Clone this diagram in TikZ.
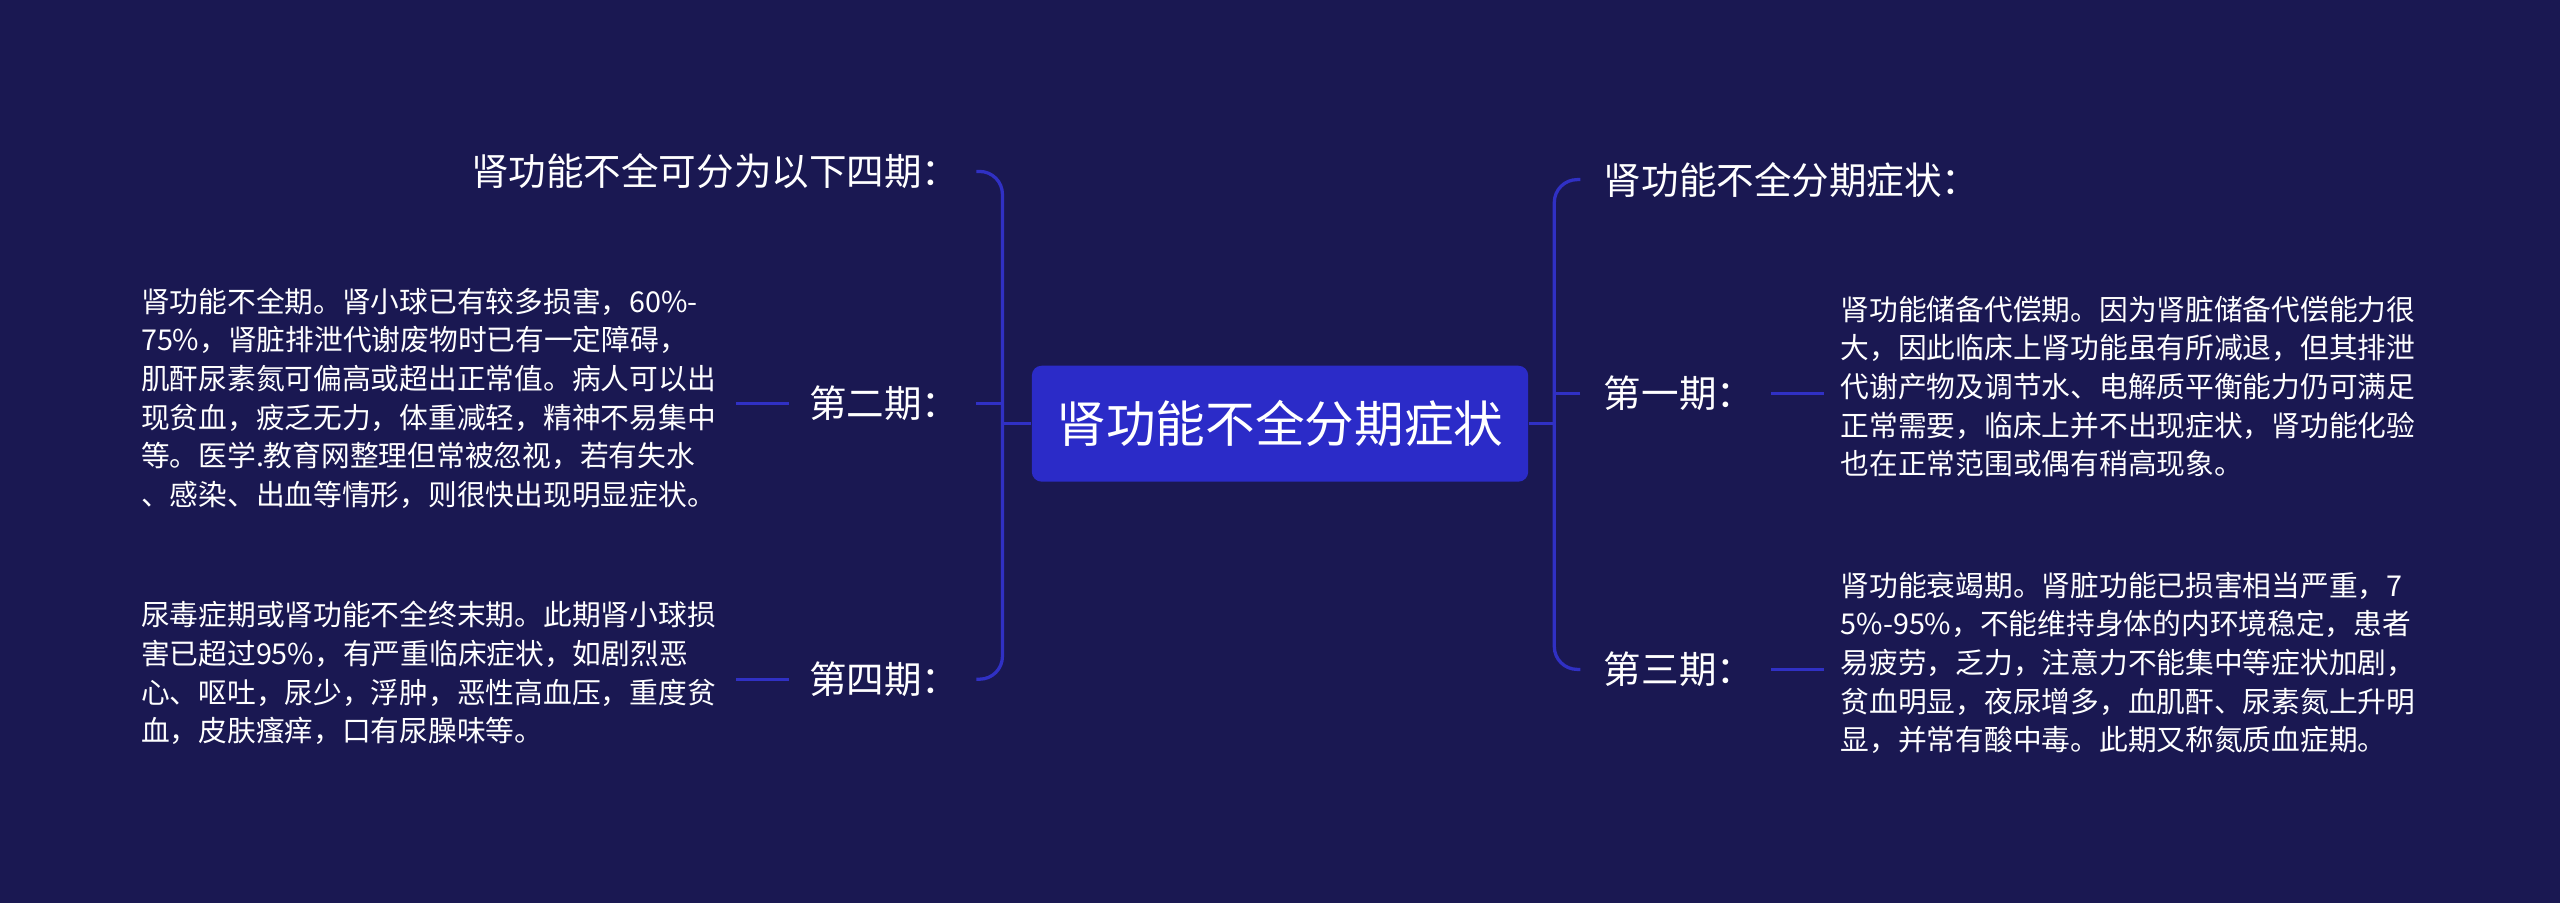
\documentclass[tikz,border=0pt]{standalone}
\usepackage{fontspec}
\setmainfont{Noto Sans CJK SC}
\usetikzlibrary{positioning}
\definecolor{bgnavy}{RGB}{26,24,82}
\definecolor{boxblue}{RGB}{43,43,200}
\definecolor{linkblue}{RGB}{48,48,196}
\tikzset{
	rootnode/.style={rectangle, rounded corners=3pt, fill=boxblue, text=white, minimum width=152pt, minimum height=35.5pt, font=\fontsize{15.2}{17}\selectfont},
	stagenode/.style={text=white, inner sep=0pt, font=\fontsize{11.5}{14}\selectfont},
	leafnode/.style={text=white, inner sep=0pt, align=left, font=\fontsize{8.8}{11.8}\selectfont},
	link/.style={linkblue, line width=1pt}
}
\begin{document}
\begin{tikzpicture}[x=0.5pt,y=-0.5pt]
			\fill[bgnavy] (0,0) rectangle (1568,553);
			\useasboundingbox (0,0) rectangle (1568,553);
			% centre
			\node[rootnode] (root) at (784,259.5) {肾功能不全分期症状};
			% right side
			\node[stagenode, anchor=west] (r0) at (982,110) {肾功能不全分期症状：};
			\node[stagenode, anchor=west] (r1) at (982,241) {第一期：};
			\node[stagenode, anchor=west] (r3) at (982,410) {第三期：};
			\node[leafnode, anchor=north west] (r1t) at (1127,181) {肾功能储备代偿期。因为肾脏储备代偿能力很\\大，因此临床上肾功能虽有所减退，但其排泄\\代谢产物及调节水、电解质平衡能力仍可满足\\正常需要，临床上并不出现症状，肾功能化验\\也在正常范围或偶有稍高现象。};
			\node[leafnode, anchor=north west] (r3t) at (1127,350) {肾功能衰竭期。肾脏功能已损害相当严重，7\\5\%-95\%，不能维持身体的内环境稳定，患者\\易疲劳，乏力，注意力不能集中等症状加剧，\\贫血明显，夜尿增多，血肌酐、尿素氮上升明\\显，并常有酸中毒。此期又称氮质血症期。};
			% left side
			\node[stagenode, anchor=east] (l0) at (588,105) {肾功能不全可分为以下四期：};
			\node[stagenode, anchor=east] (l2) at (588,247) {第二期：};
			\node[stagenode, anchor=east] (l4) at (588,416) {第四期：};
			\node[leafnode, anchor=north west] (l2t) at (86,176) {肾功能不全期。肾小球已有较多损害，60\%-\\75\%，肾脏排泄代谢废物时已有一定障碍，\\肌酐尿素氮可偏高或超出正常值。病人可以出\\现贫血，疲乏无力，体重减轻，精神不易集中\\等。医学.教育网整理但常被忽视，若有失水\\、感染、出血等情形，则很快出现明显症状。};
			\node[leafnode, anchor=north west] (l4t) at (86,368) {尿毒症期或肾功能不全终末期。此期肾小球损\\害已超过95\%，有严重临床症状，如剧烈恶\\心、呕吐，尿少，浮肿，恶性高血压，重度贫\\血，皮肤瘙痒，口有尿臊味等。};
			% brackets
			\draw[link] (root.east) -- (952,259.5);
			\draw[link, rounded corners=7pt] ([xshift=-7pt]r0.west) -| (952,259.5) |- ([xshift=-7pt]r3.west);
			\draw[link] ([xshift=-7pt]r1.west) -- (952,241);
			\draw[link] (root.west) -- (614,259.5);
			\draw[link, rounded corners=7pt] ([xshift=5pt]l0.east) -| (614,259.5) |- ([xshift=5pt]l4.east);
			\draw[link] ([xshift=5pt]l2.east) -- (614,247);
			% leaves
			\draw[link] (1085,241) -- (1117,241);
			\draw[link] (1085,410) -- (1117,410);
			\draw[link] (451,247) -- (483,247);
			\draw[link] (451,416) -- (483,416);
\end{tikzpicture}
\end{document}
